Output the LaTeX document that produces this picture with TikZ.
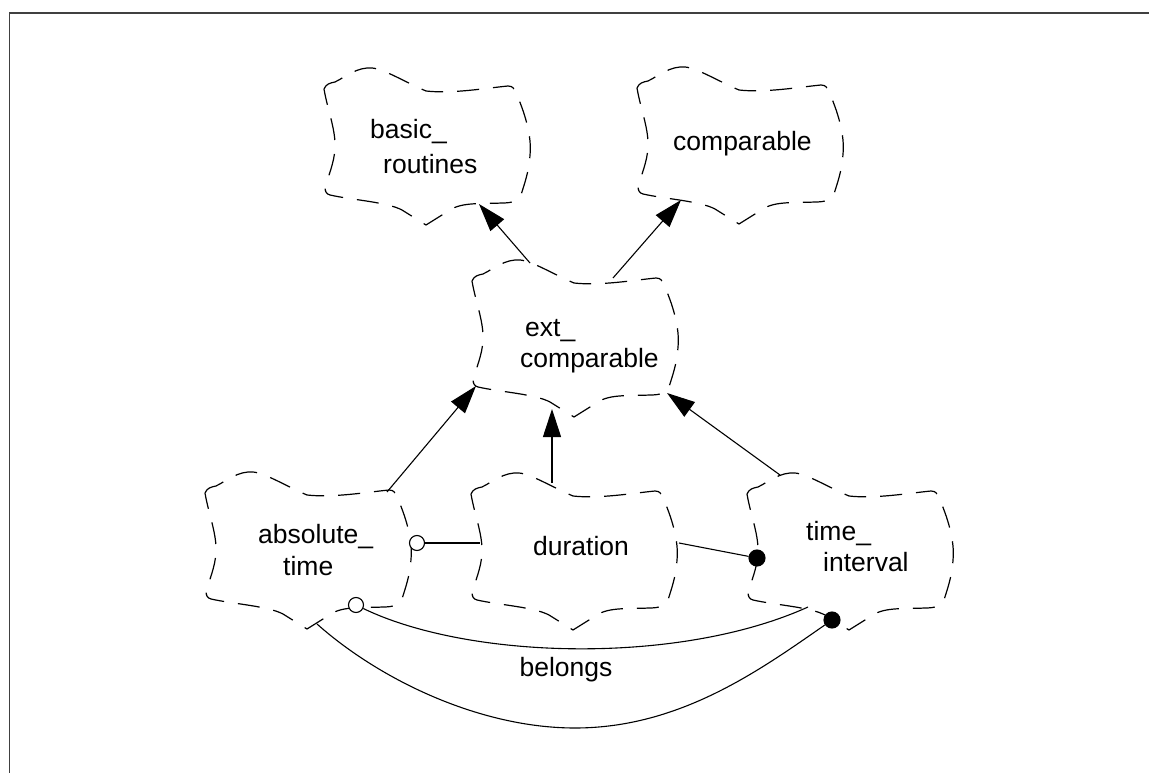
\documentclass[tikz,border=0pt]{standalone}
\usepackage{fontspec}
\setmainfont{Liberation Sans}
\usetikzlibrary{arrows.meta}

\tikzset{
  cloudline/.style={draw, line width=1.2pt, dash pattern=on 22pt off 14pt},
  cloud/.pic={
    \path[cloudline]
      (2,22) .. controls (4,17) and (8,16) .. (13,15)
      .. controls (25,9) and (35,0) .. (50,1)
      .. controls (62,2) and (85,16) .. (104,24)
      .. controls (130,27) and (165,21) .. (186,19)
      .. controls (191,19) and (192,22) .. (193,24)
      .. controls (203,45) and (210,70) .. (208,88)
      .. controls (207,105) and (202,118) .. (199,128)
      .. controls (197,134) and (190,136) .. (180,136)
      .. controls (160,137) and (140,135) .. (128,143)
      -- (104,158) -- (80,143)
      .. controls (65,135) and (30,133) .. (8,128)
      .. controls (4,127) and (3,124) .. (3,120)
      .. controls (8,105) and (14,90) .. (13,75)
      .. controls (12,58) and (5,40) .. cycle;
  },
  classname/.style={anchor=base west, inner sep=0pt, font=\fontsize{26.5}{31}\selectfont},
  link/.style={draw, line width=1.1pt},
  gen/.style={link, -{Triangle[length=28pt,width=18pt]}},
  ocirc/.style={circle, draw, fill=white, line width=1.1pt, minimum size=15pt, inner sep=0pt},
  fcirc/.style={circle, draw, fill=black, line width=1.1pt, minimum size=16pt, inner sep=0pt},
  framecol/.style={draw=black!75, line width=1.5pt}
}

\begin{document}
\begin{tikzpicture}[x=1pt, y=-1pt]
  \useasboundingbox (0,0) rectangle (1149,773);
  \fill[white] (0,0) rectangle (1149,773);

  % page frame
  \draw[framecol] (9.5,773) -- (9.5,13) -- (1149,13);

  % class clouds
  \pic at (322,67)  {cloud};
  \pic at (635,66)  {cloud};
  \pic at (470,259) {cloud};
  \pic at (203,471) {cloud};
  \pic at (469,472) {cloud};
  \pic at (745,472) {cloud};

  % class names
  \node[classname] (basic) at (370,139)
    {\begin{tabular}[t]{@{}l@{}}basic\_\\[4pt]\hspace*{13pt}routines\end{tabular}};
  \node[classname] (cmp) at (673,150) {comparable};
  \node[classname] (ext) at (520,336)
    {\begin{tabular}[t]{@{}l@{}}\hspace*{5pt}ext\_\\comparable\end{tabular}};
  \node[classname] (abs) at (258,543)
    {\begin{tabular}[t]{@{}l@{}}absolute\_\\[1pt]\hspace*{25pt}time\end{tabular}};
  \node[classname] (dur) at (533,555) {duration};
  \node[classname] (ti) at (806,540)
    {\begin{tabular}[t]{@{}l@{}}time\_\\\hspace*{17pt}interval\end{tabular}};

  % attachment points on the cloud outlines
  \coordinate (basic-b) at (479,204);
  \coordinate (cmp-b)   at (681,200);
  \coordinate (ext-t1)  at (530,263);
  \coordinate (ext-t2)  at (613,278);
  \coordinate (ext-bl)  at (476,386);
  \coordinate (ext-bm)  at (552,409);
  \coordinate (ext-br)  at (667,393);
  \coordinate (abs-t)   at (387,492);
  \coordinate (abs-v)   at (317,624);
  \coordinate (dur-t)   at (552,483);
  \coordinate (dur-w)   at (480,543);
  \coordinate (dur-e)   at (679,543);
  \coordinate (ti-t)    at (780,475);
  \coordinate (ti-b)    at (808,607);

  % association ends
  \node[ocirc] (o1) at (417,543) {};
  \node[ocirc] (o2) at (356,605) {};
  \node[fcirc] (f1) at (757,558) {};
  \node[fcirc] (f2) at (832,620) {};

  % inheritance
  \draw[gen] (ext-t1) -- (basic-b);
  \draw[gen] (ext-t2) -- (cmp-b);
  \draw[gen] (abs-t) -- (ext-bl);
  \draw[gen] (dur-t) -- (ext-bm);
  \draw[gen] (ti-t) -- (ext-br);

  % associations
  \draw[link] (o1) -- (dur-w);
  \draw[link] (dur-e) -- (f1);
  \draw[link] (o2) .. controls (470,660) and (680,665) .. (ti-b);
  \draw[link] (abs-v) .. controls (380,680) and (480,728) .. (575,728)
              .. controls (680,728) and (760,670) .. (f2);
  \node[anchor=base, inner sep=0pt, font=\fontsize{26.5}{31}\selectfont] (belongs) at (566,676) {belongs};
\end{tikzpicture}
\end{document}
